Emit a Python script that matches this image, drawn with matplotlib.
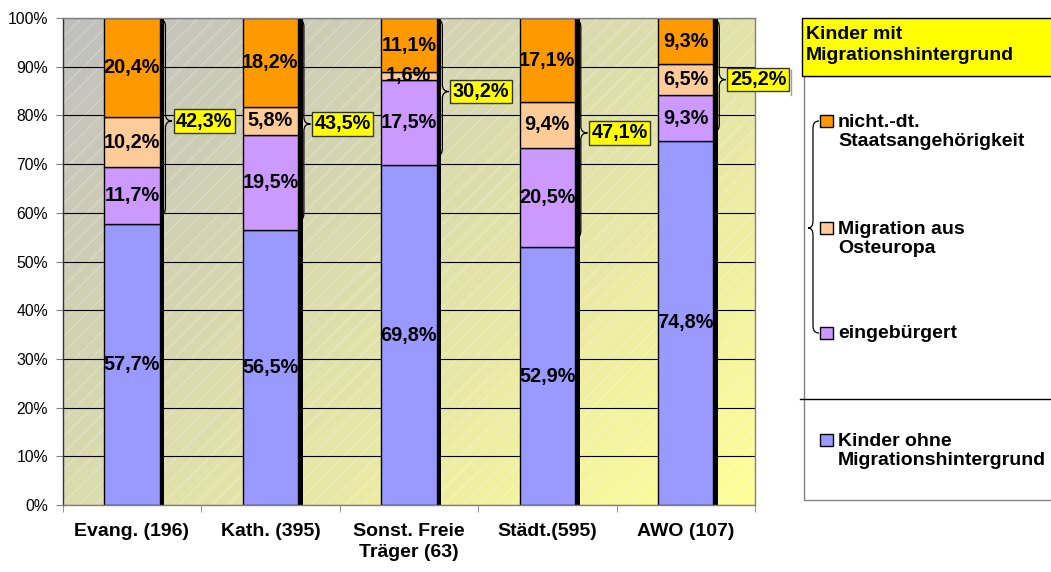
import numpy as np
import matplotlib
matplotlib.use("Agg")
import matplotlib.pyplot as plt
from matplotlib.patches import Rectangle, PathPatch
from matplotlib.path import Path

plt.rcParams['font.family'] = ['Liberation Sans', 'DejaVu Sans']
plt.rcParams['hatch.linewidth'] = 0.6

# ---------------- data ----------------
categories = ['Evang. (196)', 'Kath. (395)', 'Sonst. Freie\nTräger (63)', 'Städt.(595)', 'AWO (107)']
ohne = [57.7, 56.5, 69.8, 52.9, 74.8]
eingeb = [11.7, 19.5, 17.5, 20.5, 9.3]
osteuropa = [10.2, 5.8, 1.6, 9.4, 6.5]
nicht_dt = [20.4, 18.2, 11.1, 17.1, 9.3]
totals_mig = [42.3, 43.5, 30.2, 47.1, 25.2]
yticks = [0, 10, 20, 30, 40, 50, 60, 70, 80, 90, 100]

series_names = ['Kinder ohne\nMigrationshintergrund', 'eingebürgert',
                'Migration aus\nOsteuropa', 'nicht.-dt.\nStaatsangehörigkeit']
colors = ['#9999ff', '#cc99ff', '#ffcc99', '#ff9900']


def fmt(v):
    return f"{v:.1f}".replace('.', ',') + '%'


def brace(ax, x0, xm, xt, yt, yb, ym, r, **kw):
    s = np.sign(yb - yt)
    verts = [(x0, yt), (xm, yt), (xm, yt + s * r),
             (xm, ym - s * r), (xm, ym), (xt, ym),
             (xm, ym), (xm, ym + s * r),
             (xm, yb - s * r), (xm, yb), (x0, yb)]
    codes = [Path.MOVETO, Path.CURVE3, Path.CURVE3,
             Path.LINETO, Path.CURVE3, Path.CURVE3,
             Path.CURVE3, Path.CURVE3,
             Path.LINETO, Path.CURVE3, Path.CURVE3]
    ax.add_patch(PathPatch(Path(verts, codes), fill=False, **kw))


W, H = 1051, 572
fig = plt.figure(figsize=(W / 100, H / 100), dpi=100)
fig.patch.set_facecolor('white')

x0p, x1p, y0p, y1p = 62.7, 755, 18, 505
ax = fig.add_axes([x0p / W, 1 - y1p / H, (x1p - x0p) / W, (y1p - y0p) / H])

# background gradient
gx, gy = np.meshgrid(np.linspace(0, 1, 300), np.linspace(0, 1, 300))
t = 0.55 * gx + 0.45 * gy
c0 = np.array([0.75, 0.75, 0.75])
c1 = np.array([1.0, 1.0, 0.60])
img = c0[None, None, :] * (1 - t[..., None]) + c1[None, None, :] * t[..., None]
ax.imshow(img, extent=[-0.5, 4.5, 0, 100], origin='upper', aspect='auto',
          zorder=0, interpolation='bilinear')
ax.add_patch(Rectangle((-0.5, 0), 5, 100, fill=False, hatch='//',
                       edgecolor=(1, 1, 1, 0.35), lw=0, zorder=0.3))

x = np.arange(len(categories))
bw = 0.4
layers = [ohne, eingeb, osteuropa, nicht_dt]
bottom = np.zeros(len(categories))
for vals, col in zip(layers, colors):
    vals = np.array(vals)
    ax.bar(x, vals, bw, bottom=bottom, color=col, edgecolor='black', lw=1, zorder=2)
    for xi, b, v in zip(x, bottom, vals):
        ax.text(xi, b + v / 2, fmt(v), ha='center', va='center', fontsize=14.3,
                fontweight='bold', zorder=4)
    bottom = bottom + vals

# right-side shadow
ax.bar(x + bw / 2 + 0.017, bottom, 0.034, color='black', lw=0, zorder=2.5)

# braces and total labels
for xi, o, tot, top in zip(x, ohne, totals_mig, bottom):
    ym = (o + top) / 2
    brace(ax, xi + 0.21, xi + 0.242, xi + 0.29, top - 0.4, o + 2.0, ym, 1.4,
          edgecolor='black', lw=0.9, zorder=3)
    ax.text(xi + 0.318, ym, fmt(tot), ha='left', va='center', fontsize=14.3,
            fontweight='bold', zorder=6,
            bbox=dict(boxstyle='square,pad=0.12', fc='#ffff00', ec='#333333', lw=1))

ax.set_xlim(-0.5, 4.5)
ax.set_ylim(0, 100)
ax.set_yticks(yticks)
ax.set_yticklabels([f"{v}%" for v in yticks], fontsize=11.3)
ax.yaxis.grid(True, color='black', lw=0.8)
ax.set_axisbelow(True)
for gl in ax.get_ygridlines():
    gl.set_zorder(1)
ax.set_xticks(x)
ax.set_xticklabels(categories, fontsize=14, fontweight='bold', linespacing=1.3)
ax.set_xticks(np.arange(-0.5, 5, 1), minor=True)
ax.tick_params(axis='x', which='major', length=0, pad=13)
ax.tick_params(axis='x', which='minor', length=5, color='#808080')
ax.tick_params(axis='y', length=5, color='#808080', pad=5.5)
for sp in ax.spines.values():
    sp.set_color('#808080')
    sp.set_linewidth(1)
ax.spines['left'].set_color('#333333')

# ---------------- legend (pixel overlay) ----------------
ov = fig.add_axes([0, 0, 1, 1])
ov.set_xlim(0, W)
ov.set_ylim(H, 0)
ov.axis('off')

ov.add_patch(Rectangle((803.5, 76), 300, 424, fc='white', ec='#808080', lw=1, zorder=1))
ov.add_patch(Rectangle((801.5, 18), 300, 58, fc='#ffff00', ec='black', lw=1, zorder=2))
ov.text(806, 45, 'Kinder mit\nMigrationshintergrund', ha='left', va='center',
        fontsize=14, fontweight='bold', linespacing=1.25, zorder=3)
ov.plot([800, W], [399, 399], color='black', lw=1, zorder=3)
ov.plot([791, 791], [70, 95], color='#a0a0a0', lw=1, zorder=3)

leg_y = [440, 333, 228, 121]  # first-line centre for each series (ohne, eing, ost, nicht)
for name, col, yy in zip(series_names, colors, leg_y):
    ov.add_patch(Rectangle((820, yy - 6), 13, 12, fc=col, ec='black', lw=1, zorder=3))
    nlines = name.count('\n') + 1
    ov.text(838, yy + (nlines - 1) * 11, name, ha='left', va='center', fontsize=14,
            fontweight='bold', linespacing=1.15, zorder=3)

brace(ov, 819, 813, 808, leg_y[3], leg_y[1], leg_y[2], 7,
      edgecolor='black', lw=0.9, zorder=3)

fig.savefig('out.png', dpi=100)
